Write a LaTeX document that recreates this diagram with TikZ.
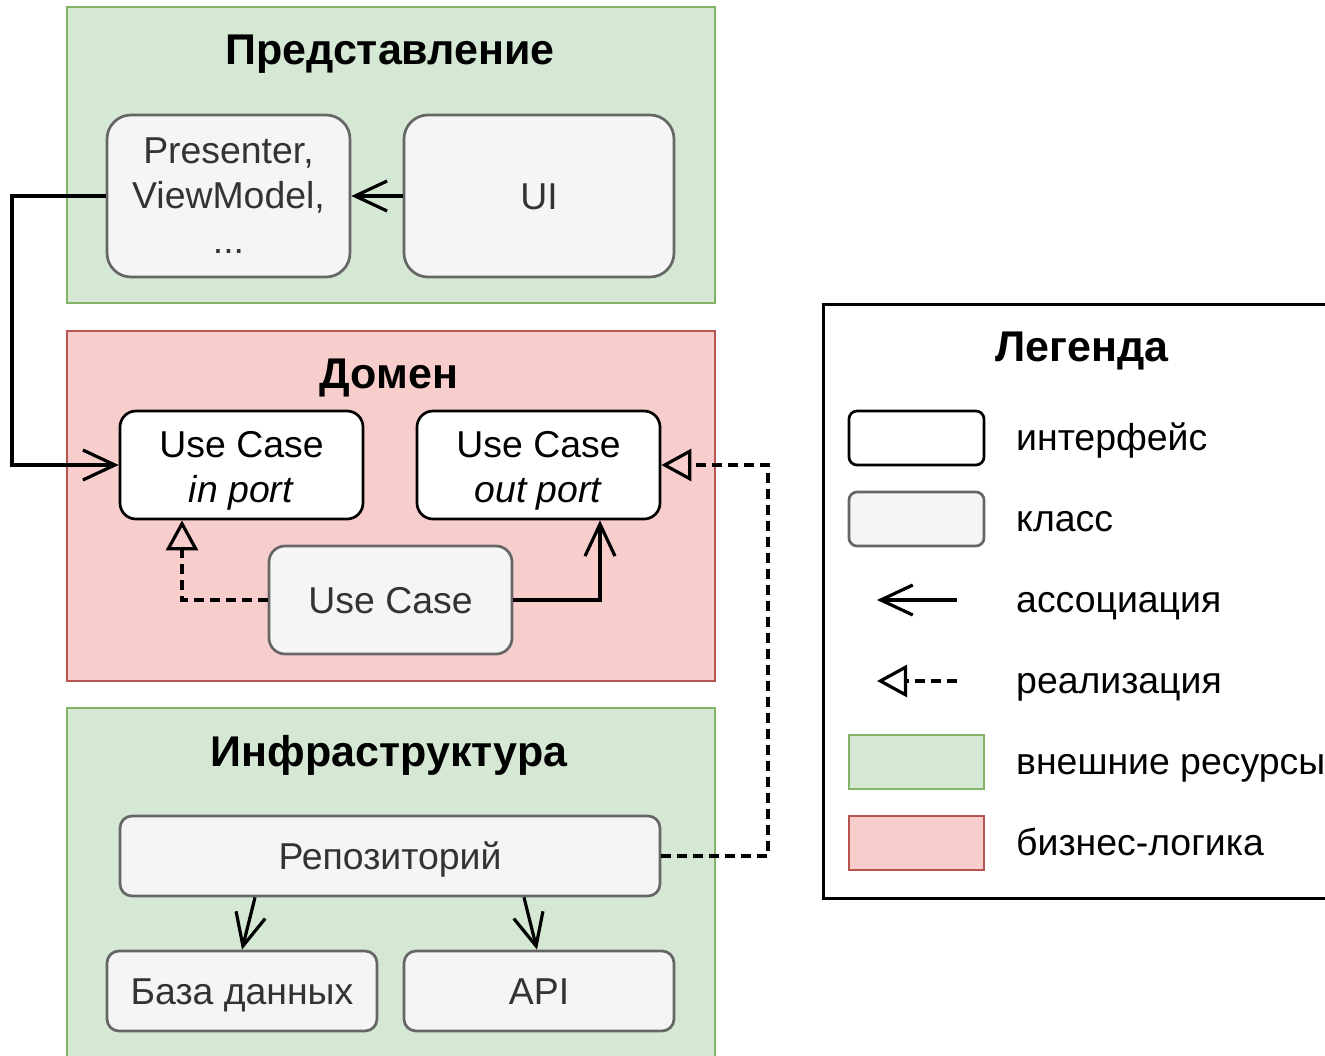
\documentclass[tikz,border=0pt]{standalone}
\usepackage{fontspec}
\setmainfont{Liberation Sans}
\usetikzlibrary{arrows.meta}
\definecolor{gfill}{HTML}{D5E8D4}
\definecolor{gline}{HTML}{82B366}
\definecolor{rfill}{HTML}{F8CECC}
\definecolor{rline}{HTML}{B85450}
\definecolor{cfill}{HTML}{F5F5F5}
\definecolor{cline}{HTML}{666666}
\definecolor{ctext}{HTML}{333333}
\newcommand\txtsz{\fontsize{37.4pt}{45pt}\selectfont}
\newcommand\ttlsz{\fontsize{43pt}{51pt}\selectfont\bfseries}
\newcommand\firstline{\rule{0pt}{37pt}}
\begin{document}
\begin{tikzpicture}[x=1pt,y=-1pt,
  lw/.style={line width=2.7pt},
  clw/.style={line width=3.2pt},
  cls/.style={draw=cline, fill=cfill, text=ctext, lw, inner sep=0pt, font=\txtsz, align=center},
  iface/.style={draw=black, fill=white, text=black, lw, inner sep=0pt, font=\txtsz, align=center},
  oneline/.style={text height=27pt, text depth=0pt},
  zone/.style={draw=#1line, fill=#1fill, lw, inner sep=0pt},
  ttl/.style={font=\ttlsz, anchor=base, inner sep=0pt},
  lbl/.style={font=\txtsz, anchor=base west, inner sep=0pt},
  assoc/.style={draw=black, clw, -{Straight Barb[length=32pt,width=30pt,line width=3.2pt]}},
  real/.style={draw=black, clw, dash pattern=on 10pt off 6pt, -{Triangle[open,length=30pt,width=32pt,line width=3.2pt]}},
]
\useasboundingbox (0,0) rectangle (1325,1055);
\clip (0,0) rectangle (1325,1055);
\fill[white] (0,0) rectangle (1325,1055);

% zones
\draw[zone=g] (67,7) rectangle (715,303);
\draw[zone=r] (67,331) rectangle (715,681);
\draw[zone=g] (67,708) rectangle (715,1075);

\node[ttl] (t1) at (390,64) {Представление};
\node[ttl] (t2) at (389,388) {Домен};
\node[ttl] (t3) at (389,766) {Инфраструктура};

% presentation
\node[cls, rounded corners=24pt, minimum width=243pt, minimum height=162pt] (pres) at (228.5,196) {Presenter,\\ViewModel,\\...};
\node[cls, oneline, rounded corners=24pt, minimum width=270pt, minimum height=162pt] (ui) at (539,196) {UI};

% domain
\node[iface, rounded corners=16pt, minimum width=243pt, minimum height=108pt] (inport) at (241.5,465) {\firstline Use Case\\\textit{in port}};
\node[iface, rounded corners=16pt, minimum width=243pt, minimum height=108pt] (outport) at (538.5,465) {\firstline Use Case\\\textit{out port}};
\node[cls, oneline, rounded corners=16pt, minimum width=243pt, minimum height=108pt] (uc) at (390.5,600) {Use Case};

% infrastructure
\node[cls, oneline, rounded corners=12pt, minimum width=540pt, minimum height=80pt] (repo) at (390,856) {Репозиторий};
\node[cls, oneline, rounded corners=12pt, minimum width=270pt, minimum height=80pt] (db) at (242,991) {База данных};
\node[cls, oneline, rounded corners=12pt, minimum width=270pt, minimum height=80pt] (api) at (539,991) {API};

% connectors
\coordinate (k1) at (12,196);
\coordinate (k2) at (768,856);
\draw[assoc] (ui.west) -- (pres.west -| pres.east);
\draw[assoc] (pres.west) -- (k1) |- (inport.west);
\draw[real] (uc.west) -| ([xshift=-59.5pt]inport.south);
\draw[assoc] (uc.east) -| ([xshift=61.5pt]outport.south);
\draw[real] (repo.east) -- (k2) |- (outport.east);
\draw[assoc] ([xshift=-135pt]repo.south) -- (db.north);
\draw[assoc] ([xshift=134pt]repo.south) -- ([xshift=-2pt]api.north);

% legend
\node[draw=black, fill=white, lw, minimum width=520pt, minimum height=594pt, anchor=north west, inner sep=0pt] (leg) at (822,303) {};
\node[ttl] (lt) at (1082,361) {Легенда};
\node[iface, rounded corners=8pt, minimum width=135pt, minimum height=54pt] (li) at (916.5,438) {};
\node[cls, rounded corners=8pt, minimum width=135pt, minimum height=54pt] (lc) at (916.5,519) {};
\coordinate (la1) at (957,600);
\coordinate (la2) at (877,600);
\draw[assoc] (la1) -- (la2);
\coordinate (lr1) at (957,681);
\coordinate (lr2) at (877,681);
\draw[real] (lr1) -- (lr2);
\node[zone=g, minimum width=135pt, minimum height=54pt] (lg) at (916.5,762) {};
\node[zone=r, minimum width=135pt, minimum height=54pt] (lrr) at (916.5,843) {};
\node[lbl] (l1) at (1016,450.5) {интерфейс};
\node[lbl] (l2) at (1016,531.5) {класс};
\node[lbl] (l3) at (1016,612.5) {ассоциация};
\node[lbl] (l4) at (1016,693.5) {реализация};
\node[lbl] (l5) at (1016,774.5) {внешние ресурсы};
\node[lbl] (l6) at (1016,855.5) {бизнес-логика};
\end{tikzpicture}
\end{document}
